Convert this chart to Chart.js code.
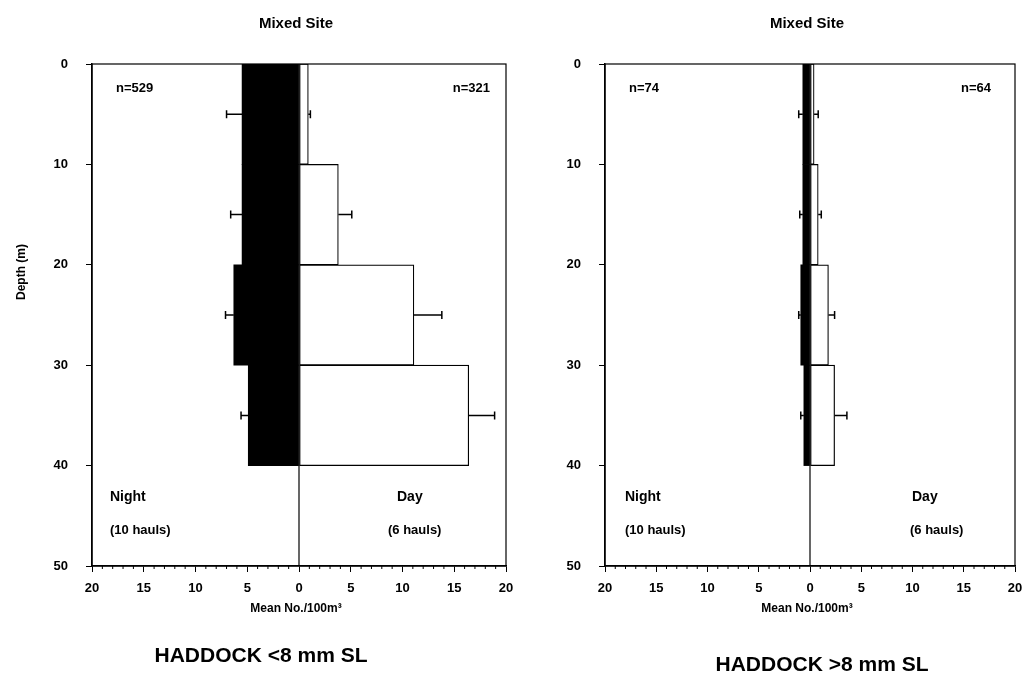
<!DOCTYPE html>
<html>
<head>
<meta charset="utf-8">
<title>Haddock larvae depth distribution</title>
<script src="https://cdn.jsdelivr.net/npm/chart.js@4.4.1/dist/chart.umd.min.js"></script>
<style>
  html, body { margin: 0; padding: 0; background: #fff; }
  body { width: 1023px; height: 689px; position: relative; overflow: hidden;
         font-family: "Liberation Sans", Arial, sans-serif; }
  .panel { position: absolute; top: 0; height: 689px; }
  #leftPanel { left: 0; width: 520px; }
  #rightPanel { left: 515px; width: 508px; }
  .caption { position: absolute; font-weight: bold; font-size: 21px; color: #000;
             white-space: nowrap; transform: translateX(-50%); }
</style>
</head>
<body>
<div class="panel" id="leftPanel"><canvas id="chartSmall"></canvas></div>
<div class="panel" id="rightPanel"><canvas id="chartLarge"></canvas></div>
<div class="caption" style="left:261px; top:643px;">HADDOCK &lt;8 mm SL</div>
<div class="caption" style="left:822px; top:652px;">HADDOCK &gt;8 mm SL</div>

<script>
// depth bins (midpoints, m) and axis ranges
const depthMid = [5, 15, 25, 35];
const depthRange = [0, 50];
const abundanceRange = [-20, 20];

// HADDOCK <8 mm SL, mean no./100m3 and standard error
const nightSmall = [5.5, 5.5, 6.3, 4.9];
const nightSmallSE = [1.5, 1.1, 0.8, 0.7];
const daySmall = [0.9, 3.8, 11.1, 16.4];
const daySmallSE = [0.2, 1.3, 2.7, 2.5];

// HADDOCK >8 mm SL
const nightLarge = [0.7, 0.7, 0.9, 0.6];
const nightLargeSE = [0.4, 0.3, 0.2, 0.3];
const dayLarge = [0.4, 0.8, 1.8, 2.4];
const dayLargeSE = [0.4, 0.3, 0.6, 1.2];

const FONT = '"Liberation Sans", Arial, sans-serif';

// night is plotted to the left of zero, day to the right
function toPoints(values, sign) {
  return values.map((v, i) => ({ x: sign * v, y: depthMid[i] }));
}

// error bars: one-sided, from the bar end outwards, with an end cap
const errorBars = {
  id: 'errorBars',
  afterDatasetsDraw(chart) {
    const ctx = chart.ctx;
    const xs = chart.scales.x, ys = chart.scales.y;
    ctx.save();
    ctx.strokeStyle = '#000';
    ctx.lineWidth = 1.5;
    chart.data.datasets.forEach(ds => {
      if (!ds.errors) return;
      ds.data.forEach((p, i) => {
        const se = ds.errors[i];
        const sign = p.x < 0 ? -1 : 1;
        const x0 = xs.getPixelForValue(p.x);
        const x1 = xs.getPixelForValue(p.x + sign * se);
        const y = ys.getPixelForValue(p.y);
        ctx.beginPath();
        ctx.moveTo(x0, y); ctx.lineTo(x1, y);
        ctx.moveTo(x1, y - 4); ctx.lineTo(x1, y + 4);
        ctx.stroke();
      });
    });
    ctx.restore();
  }
};

// plot frame, zero line and minor x ticks
const frame = {
  id: 'frame',
  afterDraw(chart) {
    const { ctx, chartArea: a } = chart;
    const xs = chart.scales.x;
    ctx.save();
    ctx.strokeStyle = '#000';
    ctx.lineWidth = 1.2;
    ctx.strokeRect(a.left, a.top, a.right - a.left, a.bottom - a.top);
    const x0 = xs.getPixelForValue(0);
    ctx.beginPath();
    ctx.moveTo(x0, a.top); ctx.lineTo(x0, a.bottom);
    ctx.stroke();
    ctx.lineWidth = 1;
    ctx.beginPath();
    for (let v = abundanceRange[0]; v <= abundanceRange[1]; v++) {
      if (v % 5 === 0) continue;
      const x = xs.getPixelForValue(v);
      ctx.moveTo(x, a.bottom); ctx.lineTo(x, a.bottom + 3);
    }
    ctx.stroke();
    ctx.restore();
  }
};

// titles, axis labels and the n / haul annotations
const panelText = {
  id: 'panelText',
  afterDraw(chart, args, opts) {
    const { ctx, chartArea: a } = chart;
    const zx = chart.scales.x.getPixelForValue(0);
    ctx.save();
    ctx.fillStyle = '#000';
    ctx.textBaseline = 'middle';

    ctx.textAlign = 'center';
    ctx.font = 'bold 15px ' + FONT;
    ctx.fillText('Mixed Site', zx - 3, 24);
    ctx.font = 'bold 12px ' + FONT;
    ctx.fillText('Mean No./100m³', zx - 3, a.bottom + 43);

    ctx.font = 'bold 13px ' + FONT;
    ctx.textAlign = 'left';
    ctx.fillText(opts.nNight, a.left + opts.nNightDx, a.top + 24);
    ctx.textAlign = 'right';
    ctx.fillText(opts.nDay, a.right - opts.nDayDx, a.top + 24);

    ctx.textAlign = 'left';
    ctx.font = 'bold 14px ' + FONT;
    ctx.fillText('Night', a.left + opts.nightDx, a.bottom - 69);
    ctx.fillText('Day', a.left + opts.dayDx, a.bottom - 69);
    ctx.font = 'bold 13px ' + FONT;
    ctx.fillText('(10 hauls)', a.left + opts.nightDx, a.bottom - 36);
    ctx.fillText('(6 hauls)', a.left + opts.haulsDayDx, a.bottom - 36);

    if (opts.depthTitle) {
      ctx.font = 'bold 12px ' + FONT;
      ctx.translate(22, 272);
      ctx.rotate(-Math.PI / 2);
      ctx.textAlign = 'center';
      ctx.fillText('Depth (m)', 0, 0);
    }
    ctx.restore();
  }
};

function makeChart(canvasId, night, nightSE, day, daySE, pad, text) {
  return new Chart(document.getElementById(canvasId), {
    type: 'bar',
    data: {
      datasets: [
        {
          label: 'Night',
          data: toPoints(night, -1),
          errors: nightSE,
          backgroundColor: '#000',
          borderColor: '#000',
          borderWidth: 0
        },
        {
          label: 'Day',
          data: toPoints(day, 1),
          errors: daySE,
          backgroundColor: '#fff',
          borderColor: '#000',
          borderWidth: 1.2,
          borderSkipped: false
        }
      ]
    },
    options: {
      responsive: true,
      maintainAspectRatio: false,
      animation: false,
      indexAxis: 'y',
      grouped: false,
      barPercentage: 1,
      categoryPercentage: 1,
      layout: { padding: pad },
      plugins: {
        legend: { display: false },
        tooltip: { enabled: false },
        panelText: text
      },
      scales: {
        x: {
          type: 'linear',
          min: abundanceRange[0],
          max: abundanceRange[1],
          border: { display: true, color: '#000', width: 1.5 },
          grid: { drawOnChartArea: false, drawTicks: true, tickLength: 6, color: '#000' },
          ticks: {
            stepSize: 5,
            padding: 9,
            color: '#000',
            font: { family: FONT, size: 13, weight: 'bold' },
            maxRotation: 0,
            callback: v => Math.abs(v)
          },
          afterFit(scale) { scale.height = 30; scale.paddingLeft = 0; scale.paddingRight = 0; }
        },
        y: {
          type: 'linear',
          reverse: true,
          offset: false,
          min: depthRange[0],
          max: depthRange[1],
          border: { display: true, color: '#000', width: 1.5 },
          grid: { offset: false, drawOnChartArea: false, drawTicks: true, tickLength: 6, color: '#000' },
          ticks: {
            stepSize: 10,
            padding: 18,
            color: '#000',
            font: { family: FONT, size: 13, weight: 'bold' }
          },
          afterFit(scale) { scale.width = 40; scale.paddingTop = 0; scale.paddingBottom = 0; }
        }
      }
    },
    plugins: [errorBars, frame, panelText]
  });
}

makeChart('chartSmall', nightSmall, nightSmallSE, daySmall, daySmallSE,
  { left: 52, right: 14, top: 64, bottom: 93 },
  { nNight: 'n=529', nDay: 'n=321', nNightDx: 24, nDayDx: 16,
    nightDx: 18, dayDx: 305, haulsDayDx: 296, depthTitle: true });

makeChart('chartLarge', nightLarge, nightLargeSE, dayLarge, dayLargeSE,
  { left: 50, right: 8, top: 64, bottom: 93 },
  { nNight: 'n=74', nDay: 'n=64', nNightDx: 24, nDayDx: 24,
    nightDx: 20, dayDx: 307, haulsDayDx: 305, depthTitle: false });
</script>
</body>
</html>
